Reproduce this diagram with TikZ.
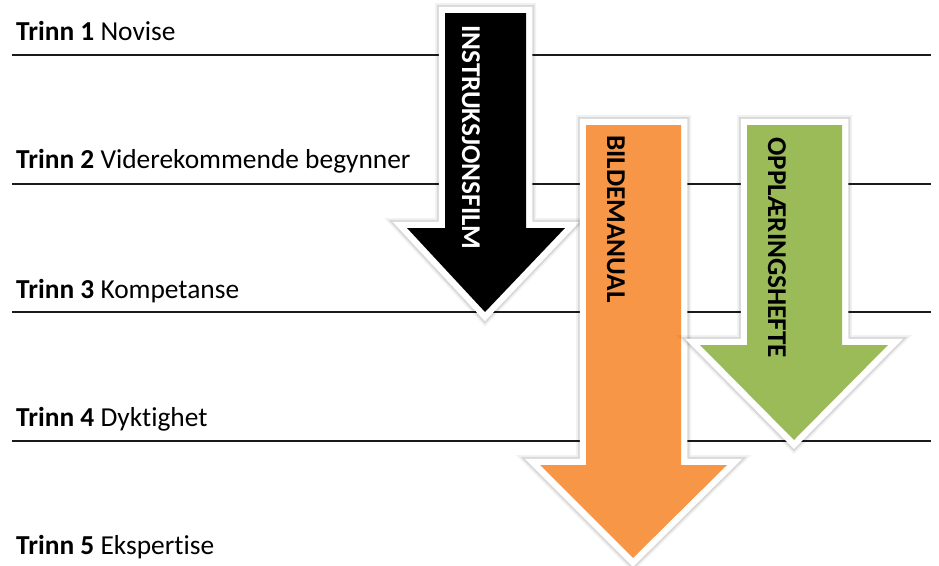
\documentclass[tikz,border=0pt]{standalone}
\usepackage{fontspec}
\setmainfont{Carlito}[Ligatures={NoCommon}]
\definecolor{arrorange}{HTML}{F79646}
\definecolor{arrgreen}{HTML}{9BBB59}
\definecolor{rulegray}{HTML}{1A1A1A}
\tikzset{
  steprule/.style={draw=rulegray, line width=1.8pt},
  steplabel/.style={anchor=base west, inner sep=0pt, font=\fontsize{27.4}{32}\selectfont, text=black},
  bigarrow/.style={line join=miter, miter limit=10,
    preaction={draw=black, draw opacity=0.05, line width=20pt},
    preaction={draw=black, draw opacity=0.10, line width=16.5pt},
    preaction={draw=white, line width=12.5pt},
    fill=#1},
  arrowlabel/.style={anchor=base west, rotate=-90, inner sep=0pt,
    font=\fontsize{27.2}{32}\selectfont\bfseries},
}
\begin{document}
\begin{tikzpicture}[x=1pt, y=-1pt]
\useasboundingbox (0,0) rectangle (939,565);
% rules
\draw[steprule] (12,55) -- (931,55);
\draw[steprule] (12,184) -- (931,184);
\draw[steprule] (12,312) -- (931,312);
\draw[steprule] (12,441) -- (931,441);
% labels
\node[steplabel] (t1) at (16,40) {\textbf{Trinn 1} Novise};
\node[steplabel] (t2) at (16,168) {\textbf{Trinn 2} Viderekommende begynner};
\node[steplabel] (t3) at (16,298) {\textbf{Trinn 3} Kompetanse};
\node[steplabel] (t4) at (16,426) {\textbf{Trinn 4} Dyktighet};
\node[steplabel] (t5) at (16,554) {\textbf{Trinn 5} Ekspertise};
% black arrow
\path[bigarrow=black] (445,13) -- (526,13) -- (526,228) -- (565,228) -- (485,312)
  -- (407,228) -- (445,228) -- cycle;
\node[arrowlabel, text=white] (instr) at (462,25) {INSTRUKSJONSFILM};
% orange arrow
\path[bigarrow=arrorange] (586,125) -- (681,125) -- (681,465) -- (727,465) -- (633,558)
  -- (540,465) -- (586,465) -- cycle;
\node[arrowlabel, text=black] (bilde) at (607,135) {BILDEMANUAL};
% green arrow
\path[bigarrow=arrgreen] (747,125) -- (842,125) -- (842,345) -- (888,345) -- (794,440)
  -- (700,345) -- (747,345) -- cycle;
\node[arrowlabel, text=black] (oppl) at (768,137) {OPPLÆRINGSHEFTE};
\end{tikzpicture}
\end{document}
